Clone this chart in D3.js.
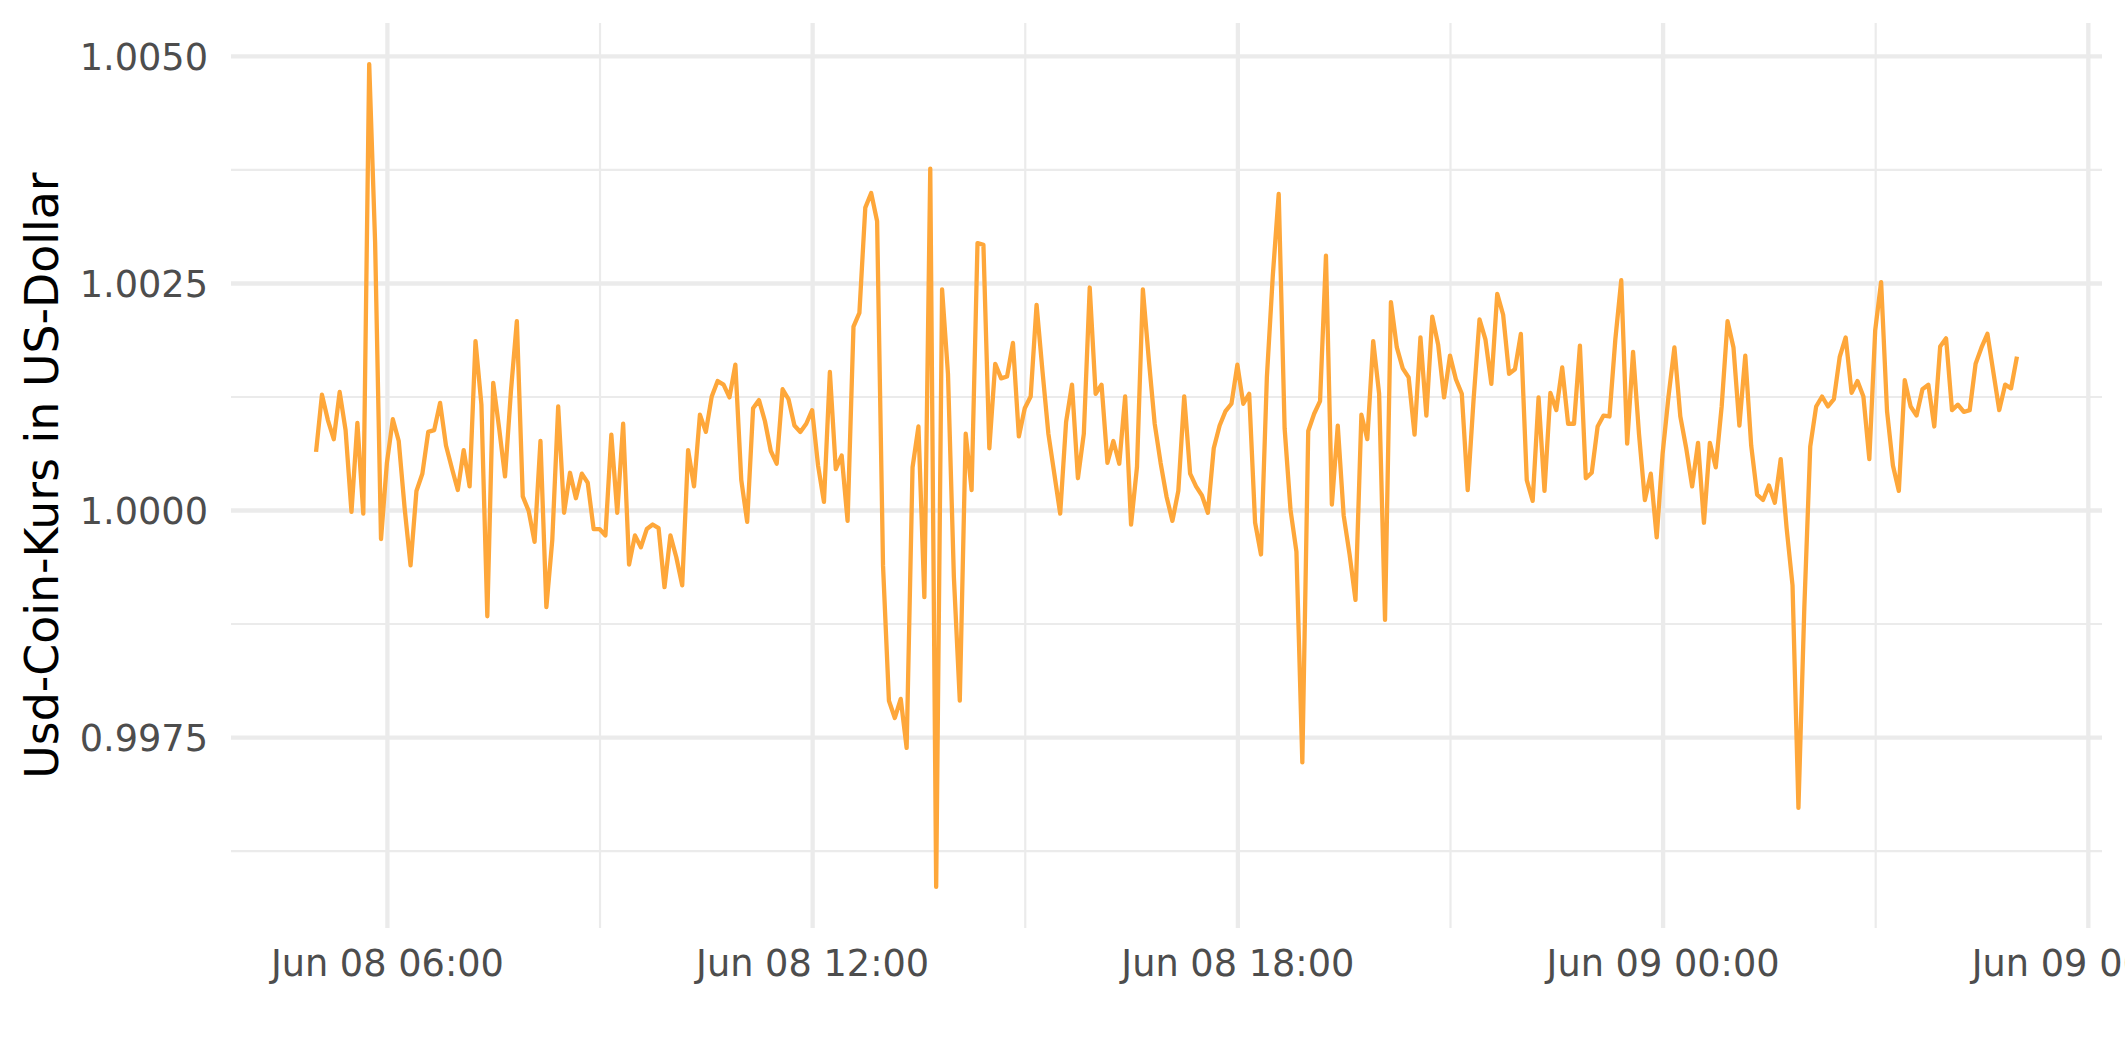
<!DOCTYPE html>
<html>
<head>
<meta charset="utf-8">
<script src="https://cdn.jsdelivr.net/npm/d3@7"></script>
<style>
  html, body { margin: 0; padding: 0; background: #ffffff; }
  svg { display: block; }
  text { font-family: "DejaVu Sans", sans-serif; }
</style>
</head>
<body>
<svg id="chart" width="2125" height="1062"></svg>
<script>
// ---------------- data ----------------
const startTime = Date.UTC(2022, 5, 8, 5, 0);   // Jun 08 05:00
const stepMinutes = 5;

const price = [
1.00064,1.00127,1.00099,1.00078,1.00130,1.00088,0.99998,1.00096,0.99996,1.00491,
1.00295,0.99968,1.00052,1.00100,1.00076,1.00002,0.99939,1.00021,1.00040,1.00086,
1.00088,1.00118,1.00071,1.00046,1.00022,1.00066,1.00026,1.00186,1.00116,0.99883,
1.00140,1.00090,1.00037,1.00131,1.00208,1.00015,0.99999,0.99965,1.00076,0.99893,
0.99967,1.00114,0.99997,1.00041,1.00013,1.00040,1.00030,0.99979,0.99979,0.99972,
1.00083,0.99997,1.00095,0.99940,0.99972,0.99959,0.99979,0.99984,0.99980,0.99915,
0.99972,0.99948,0.99917,1.00066,1.00026,1.00105,1.00086,1.00125,1.00142,1.00138,
1.00124,1.00160,1.00033,0.99987,1.00112,1.00121,1.00098,1.00065,1.00051,1.00133,
1.00122,1.00093,1.00086,1.00095,1.00110,1.00049,1.00009,1.00152,1.00045,1.00060,
0.99988,1.00202,1.00217,1.00333,1.00349,1.00318,0.99939,0.99790,0.99771,0.99792,
0.99738,1.00047,1.00092,0.99904,1.00376,0.99585,1.00243,1.00150,0.99926,0.99790,
1.00084,1.00022,1.00294,1.00292,1.00068,1.00161,1.00145,1.00147,1.00184,1.00081,
1.00112,1.00125,1.00226,1.00153,1.00084,1.00040,0.99996,1.00097,1.00138,1.00035,
1.00084,1.00245,1.00128,1.00138,1.00052,1.00076,1.00051,1.00125,0.99984,1.00047,
1.00243,1.00166,1.00095,1.00052,1.00015,0.99988,1.00021,1.00125,1.00040,1.00026,
1.00016,0.99997,1.00068,1.00093,1.00109,1.00117,1.00160,1.00117,1.00128,0.99986,
0.99951,1.00147,1.00258,1.00348,1.00090,1.00000,0.99954,0.99722,1.00087,1.00106,
1.00120,1.00280,1.00006,1.00093,0.99994,0.99951,0.99901,1.00105,1.00078,1.00186,
1.00128,0.99879,1.00229,1.00179,1.00156,1.00146,1.00083,1.00190,1.00104,1.00213,
1.00182,1.00124,1.00170,1.00144,1.00128,1.00022,1.00122,1.00210,1.00188,1.00139,
1.00238,1.00215,1.00150,1.00155,1.00194,1.00033,1.00010,1.00124,1.00021,1.00129,
1.00110,1.00157,1.00095,1.00095,1.00181,1.00035,1.00041,1.00092,1.00104,1.00103,
1.00188,1.00253,1.00073,1.00174,1.00084,1.00011,1.00040,0.99970,1.00062,1.00125,
1.00179,1.00103,1.00068,1.00026,1.00074,0.99986,1.00074,1.00047,1.00114,1.00208,
1.00179,1.00093,1.00170,1.00071,1.00017,1.00011,1.00027,1.00008,1.00056,0.99980,
0.99917,0.99672,0.99893,1.00070,1.00114,1.00125,1.00114,1.00122,1.00169,1.00190,
1.00129,1.00142,1.00125,1.00056,1.00198,1.00251,1.00109,1.00049,1.00021,1.00143,
1.00114,1.00104,1.00133,1.00138,1.00092,1.00180,1.00189,1.00110,1.00116,1.00108,
1.00110,1.00161,1.00179,1.00194,1.00152,1.00110,1.00138,1.00134,1.00169
];

const yMajorTicks = [0.9975, 1.0000, 1.0025, 1.0050];
const yMinorTicks = [0.99625, 0.99875, 1.00125, 1.00375];
const xMajorTicks = [
  Date.UTC(2022, 5, 8, 6), Date.UTC(2022, 5, 8, 12), Date.UTC(2022, 5, 8, 18),
  Date.UTC(2022, 5, 9, 0), Date.UTC(2022, 5, 9, 6)
];
const xMinorTicks = [
  Date.UTC(2022, 5, 8, 9), Date.UTC(2022, 5, 8, 15), Date.UTC(2022, 5, 8, 21),
  Date.UTC(2022, 5, 9, 3)
];
const yTitle = "Usd-Coin-Kurs in US-Dollar";

// ---------------- layout ----------------
const W = 2125, H = 1062;
const panel = { left: 231, right: 2102, top: 23, bottom: 928 };
const lineColor = "#FEA73A";
const gridColor = "#EBEBEB";

const data = price.map((v, i) => ({ t: new Date(startTime + i * stepMinutes * 60000), v }));

const tExt = d3.extent(data, d => d.t.getTime());
const tPad = (tExt[1] - tExt[0]) * 0.05;
const x = d3.scaleUtc()
  .domain([new Date(tExt[0] - tPad), new Date(tExt[1] + tPad)])
  .range([panel.left, panel.right]);

const vExt = d3.extent(data, d => d.v);
const vPad = (vExt[1] - vExt[0]) * 0.05;
const y = d3.scaleLinear()
  .domain([vExt[0] - vPad, vExt[1] + vPad])
  .range([panel.bottom, panel.top]);

const svg = d3.select("#chart");
svg.append("rect").attr("width", W).attr("height", H).attr("fill", "#ffffff");

const pw = panel.right - panel.left;
const ph = panel.bottom - panel.top;

function styleGrid(g, width) {
  g.select(".domain").remove();
  g.selectAll(".tick line").attr("stroke", gridColor).attr("stroke-width", width);
  g.selectAll(".tick text").remove();
}

// minor grid
svg.append("g")
  .attr("transform", `translate(${panel.left},0)`)
  .call(d3.axisLeft(y).tickValues(yMinorTicks).tickSize(-pw).tickFormat(""))
  .call(g => styleGrid(g, 2.2));
svg.append("g")
  .attr("transform", `translate(0,${panel.bottom})`)
  .call(d3.axisBottom(x).tickValues(xMinorTicks.map(d => new Date(d))).tickSize(-ph).tickFormat(""))
  .call(g => styleGrid(g, 2.2));

// major grid
svg.append("g")
  .attr("transform", `translate(${panel.left},0)`)
  .call(d3.axisLeft(y).tickValues(yMajorTicks).tickSize(-pw).tickFormat(""))
  .call(g => styleGrid(g, 4.3));
svg.append("g")
  .attr("transform", `translate(0,${panel.bottom})`)
  .call(d3.axisBottom(x).tickValues(xMajorTicks.map(d => new Date(d))).tickSize(-ph).tickFormat(""))
  .call(g => styleGrid(g, 4.3));

// line
const line = d3.line().x(d => x(d.t)).y(d => y(d.v));
svg.append("path")
  .datum(data)
  .attr("d", line)
  .attr("fill", "none")
  .attr("stroke", lineColor)
  .attr("stroke-width", 4.3)
  .attr("stroke-linejoin", "round")
  .attr("stroke-linecap", "butt");

// y axis labels
svg.append("g")
  .attr("transform", `translate(${panel.left},0)`)
  .call(d3.axisLeft(y).tickValues(yMajorTicks).tickSize(0).tickPadding(23).tickFormat(d3.format(".4f")))
  .call(g => {
    g.select(".domain").remove();
    g.selectAll(".tick line").remove();
    g.selectAll(".tick text")
      .attr("font-family", "DejaVu Sans, sans-serif")
      .attr("font-size", 36.7)
      .attr("fill", "#4D4D4D")
      .attr("dy", "0.365em");
  });

// x axis labels
svg.append("g")
  .attr("transform", `translate(0,${panel.bottom})`)
  .call(d3.axisBottom(x).tickValues(xMajorTicks.map(d => new Date(d))).tickSize(0).tickPadding(22)
    .tickFormat(d3.utcFormat("%b %d %H:%M")))
  .call(g => {
    g.select(".domain").remove();
    g.selectAll(".tick line").remove();
    g.selectAll(".tick text")
      .attr("font-family", "DejaVu Sans, sans-serif")
      .attr("font-size", 36.7)
      .attr("fill", "#4D4D4D");
  });

// y title
svg.append("text")
  .attr("transform", `translate(58,${(panel.top + panel.bottom) / 2}) rotate(-90)`)
  .attr("text-anchor", "middle")
  .attr("font-family", "DejaVu Sans, sans-serif")
  .attr("font-size", 45.8)
  .attr("fill", "#000000")
  .text(yTitle);
</script>
</body>
</html>
